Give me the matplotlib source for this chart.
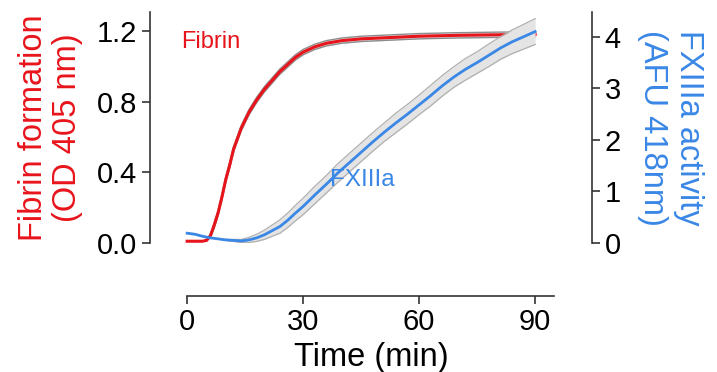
import numpy as np
import matplotlib
matplotlib.use("Agg")
import matplotlib.pyplot as plt

plt.rcParams['font.family'] = ['Liberation Sans', 'DejaVu Sans']

# fibrin formation (OD 405 nm), left axis
t_fib = [0, 2, 4, 5, 6, 7, 8, 9, 10, 11, 12, 14, 16, 18, 20, 22, 24, 26, 28, 30,
         33, 36, 40, 45, 50, 60, 70, 80, 90]
fibrin = [0.01, 0.01, 0.01, 0.015, 0.04, 0.10, 0.17, 0.26, 0.36, 0.44, 0.53, 0.65, 0.74,
          0.81, 0.87, 0.92, 0.97, 1.01, 1.05, 1.08, 1.11, 1.13, 1.145, 1.155, 1.16, 1.17,
          1.175, 1.178, 1.18]
fibrin_sd = [0.0, 0.0, 0.0, 0.005, 0.01, 0.015, 0.015, 0.015, 0.015, 0.015, 0.015, 0.015,
             0.015, 0.015, 0.015, 0.015, 0.015, 0.015, 0.015, 0.015, 0.015, 0.015, 0.015,
             0.015, 0.015, 0.015, 0.015, 0.015, 0.015]

# FXIIIa activity (AFU 418 nm), right axis
t_fx = [0, 2, 4, 6, 8, 10, 12, 14, 16, 18, 20, 22, 24, 26, 28, 30, 33, 36, 39, 42, 45,
        48, 51, 54, 57, 60, 63, 66, 69, 72, 75, 78, 81, 84, 87, 90]
fxiiia = [0.19, 0.17, 0.13, 0.10, 0.08, 0.06, 0.05, 0.04, 0.06, 0.10, 0.16, 0.24, 0.32,
          0.44, 0.58, 0.71, 0.93, 1.14, 1.36, 1.56, 1.76, 1.96, 2.15, 2.33, 2.50, 2.68,
          2.86, 3.05, 3.22, 3.37, 3.50, 3.64, 3.78, 3.90, 4.00, 4.10]
fxiiia_sd = [0.0, 0.0, 0.0, 0.0, 0.0, 0.01, 0.02, 0.03, 0.05, 0.07, 0.09, 0.11, 0.13,
             0.14, 0.15, 0.16, 0.17, 0.17, 0.18, 0.18, 0.18, 0.18, 0.18, 0.19, 0.19, 0.19,
             0.2, 0.2, 0.2, 0.21, 0.21, 0.22, 0.22, 0.23, 0.24, 0.25]

RED = '#e8141b'
BLUE = '#3a87e6'
GREY_FILL = '#e4e4e4'
GREY_EDGE = '#8c8c8c'
AX_COL = '#333333'

fig = plt.figure(figsize=(7.17, 3.72), dpi=100)
ax = fig.add_axes([150 / 717, 1 - 243 / 372, (592 - 150) / 717, (243 - 12) / 372])
ax2 = ax.twinx()

ax.set_xlim(-9.6, 104.7)
ax.set_ylim(0, 1.307)
ax2.set_ylim(0, 4.48)

# fibrin band + line
tf = np.array(t_fib)
f = np.array(fibrin)
fs = np.array(fibrin_sd)
ax.fill_between(tf, f - fs, f + fs, color=GREY_FILL, lw=0)
ax.plot(tf, f - fs, color=GREY_EDGE, lw=1)
ax.plot(tf, f + fs, color=GREY_EDGE, lw=1)
ax.plot(tf, f, color=RED, lw=2.2, zorder=5)

# FXIIIa band + line
tx = np.array(t_fx)
x = np.array(fxiiia)
xs = np.array(fxiiia_sd)
ax2.fill_between(tx, x - xs, x + xs, color=GREY_FILL, lw=0)
ax2.plot(tx, x - xs, color='#b0b0b0', lw=0.9)
ax2.plot(tx, x + xs, color='#b0b0b0', lw=0.9)
ax2.plot(tx, x, color=BLUE, lw=2, zorder=5)

ax.text(-1.5, 1.14, 'Fibrin', color=RED, fontsize=17, va='center', ha='left')
ax2.text(37, 1.22, 'FXIIIa', color=BLUE, fontsize=17.5, va='center', ha='left')

# axes styling
for a in (ax, ax2):
    a.spines['top'].set_visible(False)
    for s in a.spines.values():
        s.set_color(AX_COL)
        s.set_linewidth(1.2)
ax.spines['right'].set_visible(False)
ax2.spines['left'].set_visible(False)
ax2.spines['bottom'].set_visible(False)

ax.spines['bottom'].set_position(('outward', 38))
ax.spines['bottom'].set_bounds(0, 95)
ax.set_xticks([0, 30, 60, 90])
ax.set_yticks([0.0, 0.4, 0.8, 1.2])
ax.set_yticklabels(['0.0', '0.4', '0.8', '1.2'])
ax2.set_yticks([0, 1, 2, 3, 4])

ax.tick_params(axis='both', labelsize=21, length=6, width=1.2, color=AX_COL, pad=3)
ax2.tick_params(axis='y', labelsize=21, length=6, width=1.2, color=AX_COL, pad=3)

ax.set_xlabel('Time (min)', fontsize=23.5, labelpad=4)
ax.set_ylabel('Fibrin formation\n(OD 405 nm)', fontsize=23.5, color=RED, labelpad=10,
              linespacing=1.15)
ax2.set_ylabel('FXIIIa activity\n(AFU 418nm)', fontsize=23.5, color=BLUE, rotation=270,
               va='bottom', labelpad=12, linespacing=1.2)

fig.savefig('out.png', dpi=100)
